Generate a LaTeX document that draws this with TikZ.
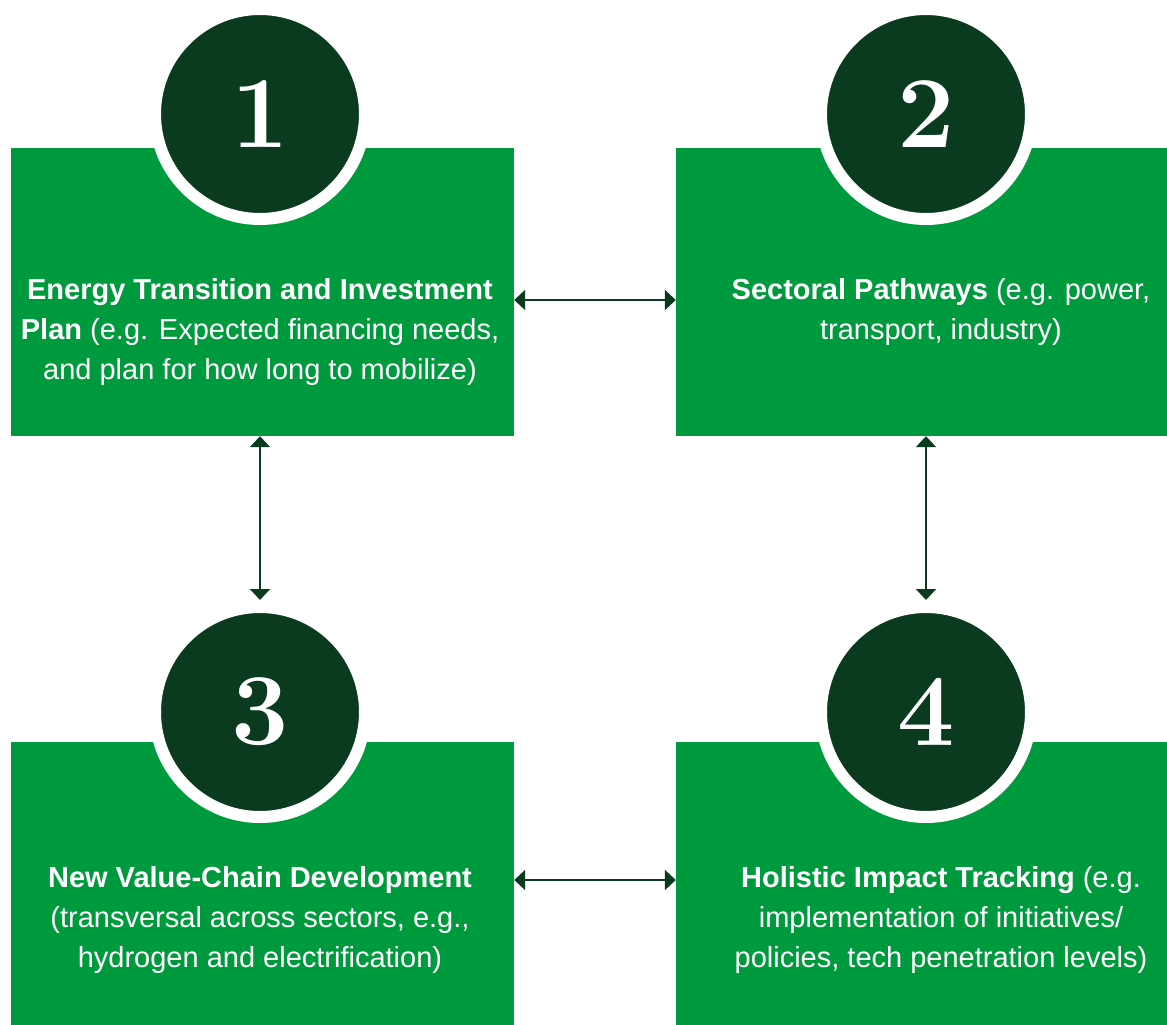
\documentclass[tikz,border=0pt]{standalone}
\usepackage{fontspec}
\setsansfont{Liberation Sans}
\usepackage{tikz}
\usetikzlibrary{arrows.meta,positioning,shapes}
\usepackage{xcolor}
\definecolor{leaf}{HTML}{009A3E}
\definecolor{forest}{HTML}{0A3B1F}

\begin{document}
\begin{tikzpicture}[x=1pt,y=-1pt,>={Triangle[length=11pt,width=20pt]}]
    \tikzstyle{panel}=[rectangle,fill=leaf,inner sep=0pt]
    \tikzstyle{badge}=[circle,fill=forest,draw=white,line width=12pt,minimum size=210pt,inner sep=0pt,
      text=white,font=\rmfamily\bfseries\fontsize{102}{102}\selectfont]
    \tikzstyle{caption}=[align=center,text=white,inner sep=0pt,font=\sffamily\fontsize{29}{40}\selectfont]
    \tikzstyle{link}=[<->,draw=forest,line width=2pt]
    \useasboundingbox (0,0) rectangle (1167,1025);
    % panels
    \node[panel,minimum width=503pt,minimum height=288pt](plan) at (262.5,292) {};
    \node[panel,minimum width=491pt,minimum height=288pt](paths) at (921.5,292) {};
    \node[panel,minimum width=503pt,minimum height=283pt](chain) at (262.5,883.5) {};
    \node[panel,minimum width=491pt,minimum height=283pt](track) at (921.5,883.5) {};
    % numbered badges
    \node[badge](b1) at (260,114) {1};
    \node[badge](b2) at (926,114) {2};
    \node[badge](b3) at (260,712) {3};
    \node[badge](b4) at (926,712) {4};
    % texts
    \node[caption](t1) at (260,332) {\textbf{Energy Transition and Investment}\\
      \textbf{Plan} (e.g. Expected financing needs,\\ and plan for how long to mobilize)};
    \node[caption](t2) at (941,312) {\textbf{Sectoral Pathways} (e.g. power,\\ transport, industry)};
    \node[caption](t3) at (260,920) {\textbf{New Value-Chain Development}\\
      (transversal across sectors, e.g.,\\ hydrogen and electrification)};
    \node[caption](t4) at (941,920) {\textbf{Holistic Impact Tracking} (e.g.\\
      implementation of initiatives/\\ policies, tech penetration levels)};
    % links
    \coordinate (d1) at (260,600);
    \coordinate (d2) at (926,600);
    \draw[link] ([yshift=-8pt]plan.east) -- ([yshift=-8pt]paths.west);
    \draw[link] ([yshift=3.5pt]chain.east) -- ([yshift=3.5pt]track.west);
    \draw[link] (plan.south -| d1) -- (d1);
    \draw[link] (paths.south -| d2) -- (d2);
  \end{tikzpicture}
\end{document}
